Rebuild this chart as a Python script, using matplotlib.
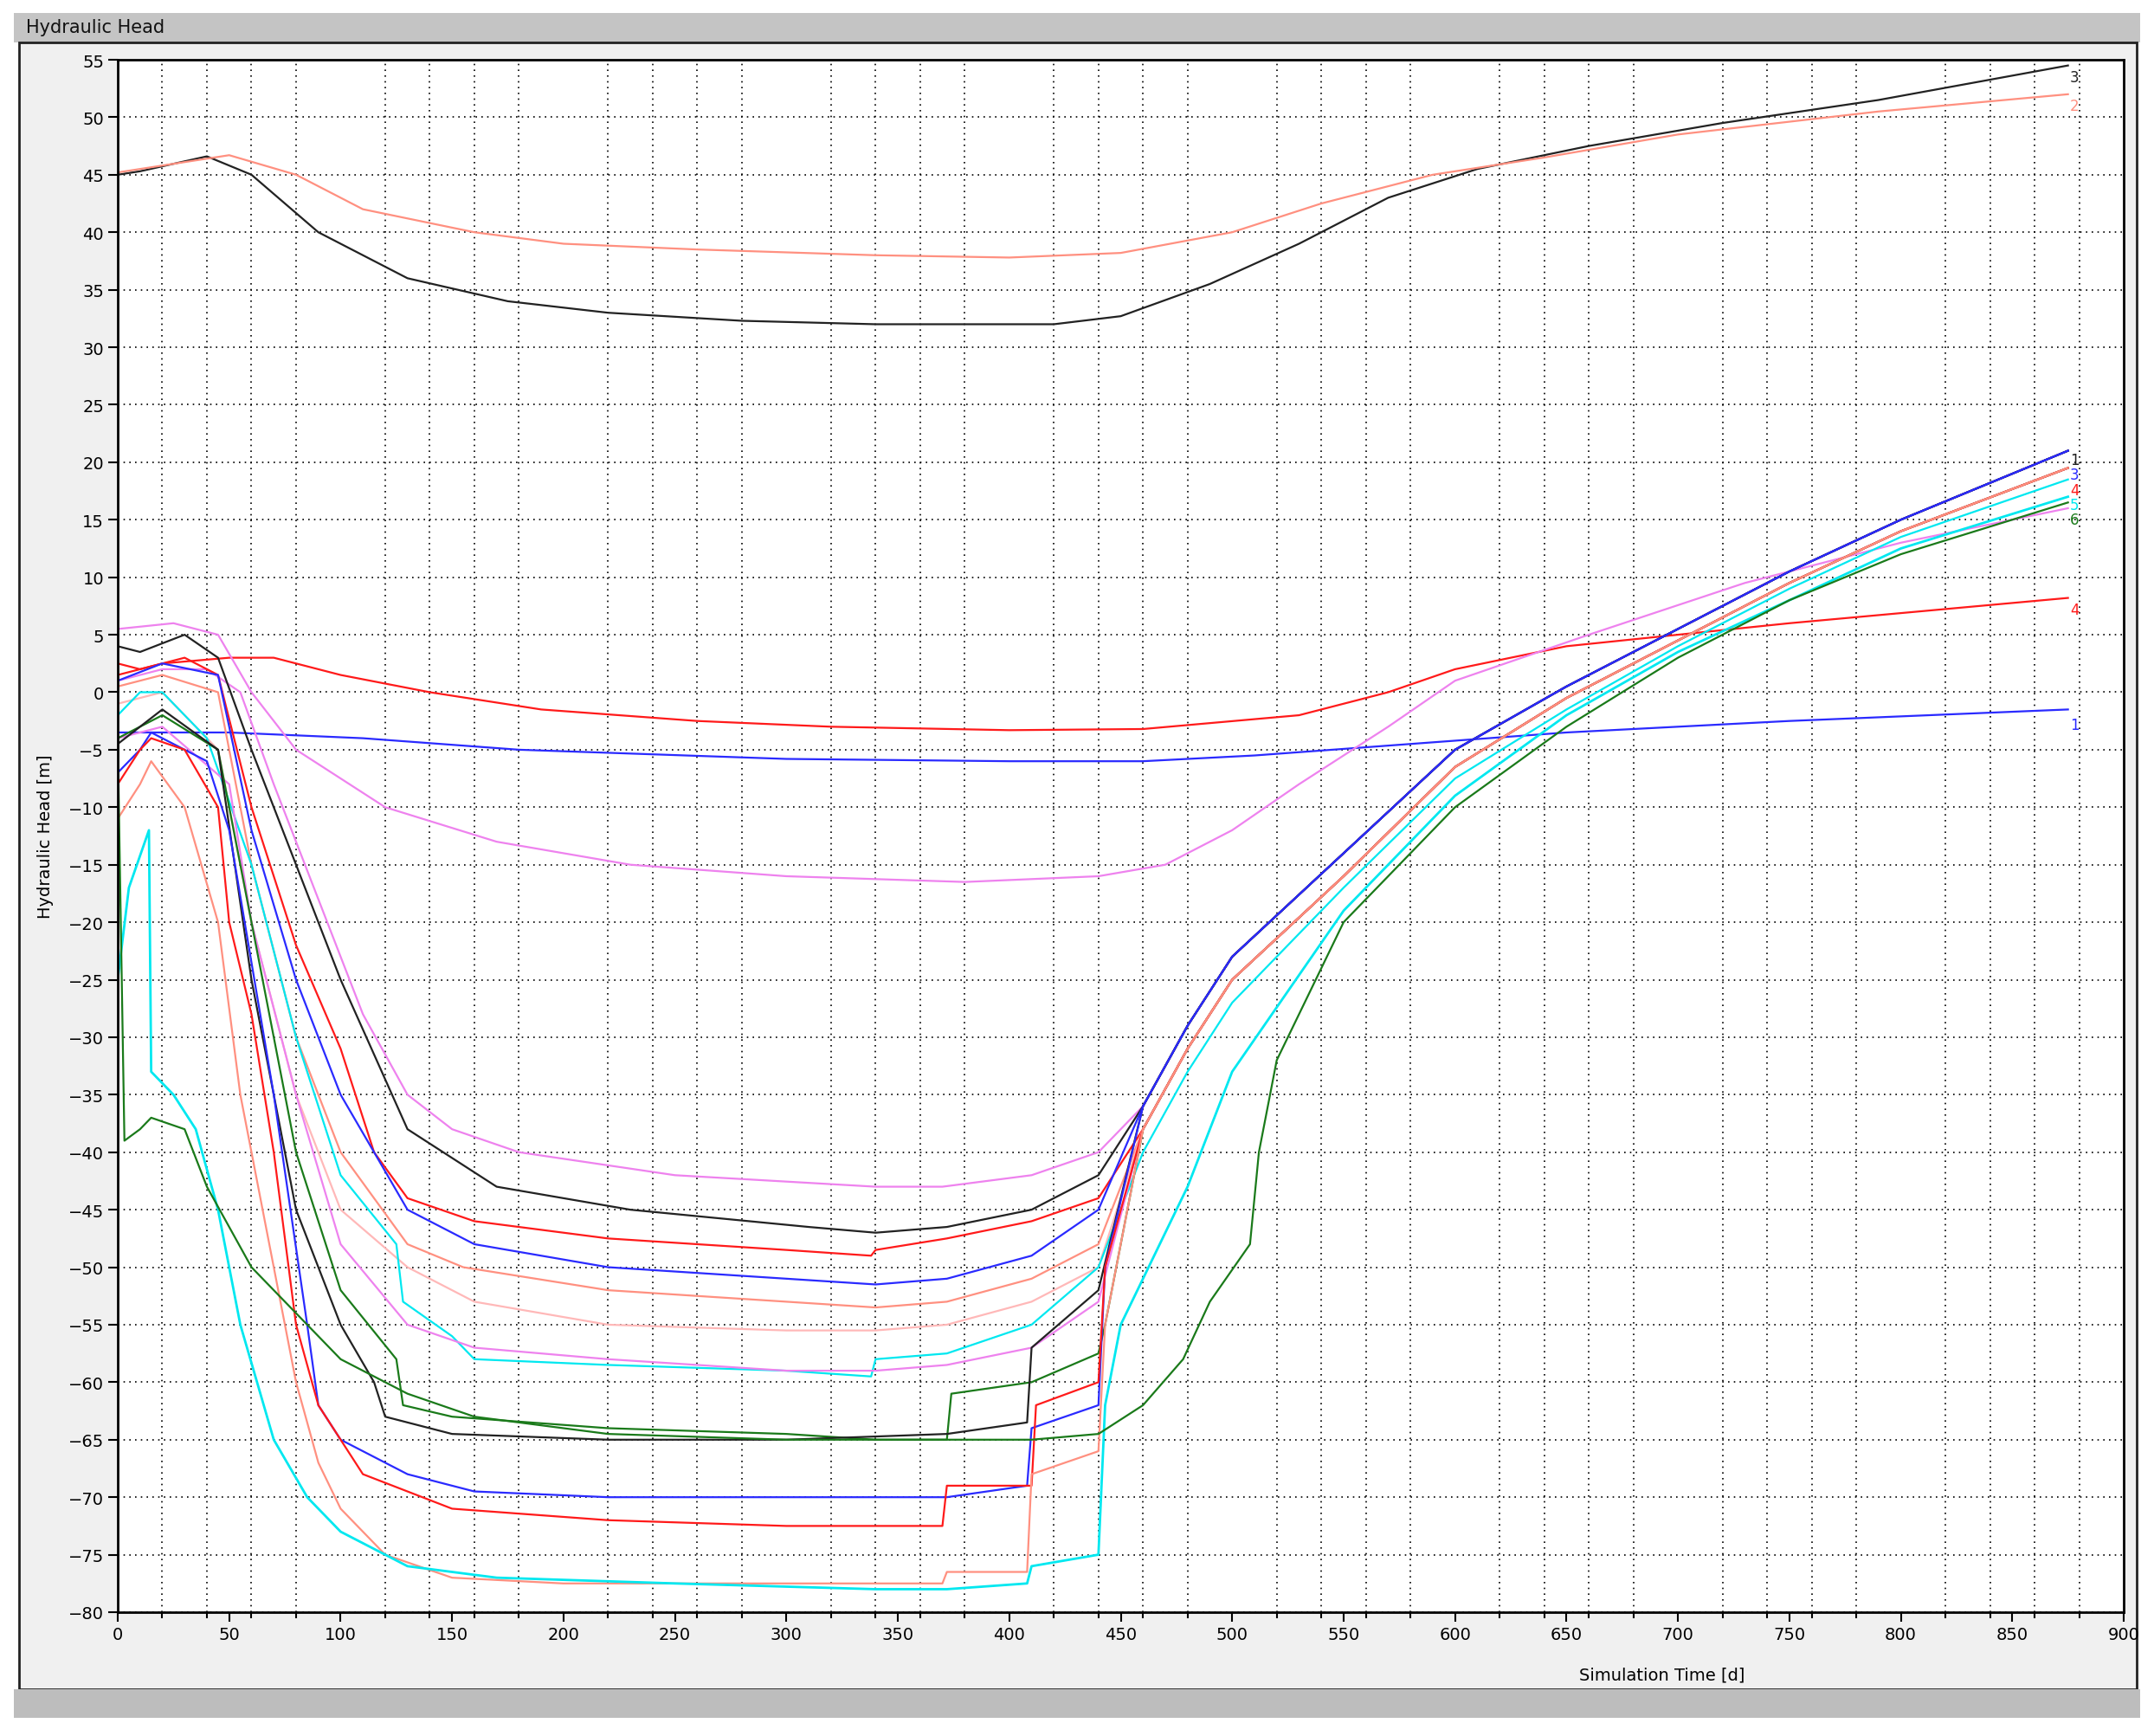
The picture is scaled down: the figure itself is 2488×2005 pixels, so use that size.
import matplotlib.pyplot as plt
from matplotlib.patches import Rectangle
from matplotlib.ticker import MultipleLocator

W, H = 2488, 2006

tail_x = [460, 480, 500, 550, 600, 650, 700, 750, 800, 875]
tail_top = [-36, -29, -23, -14, -5, 0.5, 5.5, 10.5, 15, 21]
tail_mid = [-38, -31, -25, -16, -6.5, -0.5, 4.5, 9.5, 14, 19.5]
tail_low = [-40, -33, -27, -17, -7.5, -1.5, 4, 9, 13.5, 18.5]

# curve 3 (black, top) and 2 (salmon)
t3 = [0, 10, 40, 60, 90, 130, 175, 220, 280, 340, 420, 450, 490, 530, 570, 610, 660, 720, 790, 875]
h3 = [45, 45.3, 46.6, 45, 40, 36, 34, 33, 32.3, 32, 32, 32.7, 35.5, 39, 43, 45.5, 47.5, 49.5, 51.5, 54.5]
t2 = [0, 20, 50, 80, 110, 160, 200, 260, 340, 400, 450, 500, 540, 590, 640, 700, 790, 875]
h2 = [45.2, 45.8, 46.7, 45, 42, 40, 39, 38.5, 38, 37.8, 38.2, 40, 42.5, 45, 46.5, 48.5, 50.5, 52]
# curve 4 (red) and 1 (blue)
t4 = [0, 20, 50, 70, 100, 140, 190, 260, 320, 400, 460, 530, 570, 600, 650, 750, 875]
h4 = [1.5, 2.5, 3, 3, 1.5, 0, -1.5, -2.5, -3, -3.3, -3.2, -2, 0, 2, 4, 6, 8.2]
t1 = [0, 50, 110, 180, 300, 400, 460, 510, 580, 650, 750, 875]
h1 = [-3.5, -3.5, -4, -5, -5.8, -6, -6, -5.5, -4.5, -3.5, -2.5, -1.5]
# upper violet
tv0 = [0, 25, 45, 60, 80, 120, 170, 230, 300, 380, 440, 470, 500, 530, 570, 600, 660, 730, 800, 875]
hv0 = [5.5, 6, 5, 0, -5, -10, -13, -15, -16, -16.5, -16, -15, -12, -8, -3, 1, 5, 9.5, 13, 16]

# lower cluster, flat parts
tva = [0, 20, 40, 55, 70, 90, 110, 130, 150, 180, 250, 340, 370, 410, 440]
hva = [1, 2, 2, 0, -8, -18, -28, -35, -38, -40, -42, -43, -43, -42, -40]
tba = [0, 10, 30, 45, 60, 80, 100, 130, 170, 230, 310, 340, 372, 410, 440]
hba = [4, 3.5, 5, 3, -5, -15, -25, -38, -43, -45, -46.5, -47, -46.5, -45, -42]
tra = [0, 10, 30, 45, 60, 80, 100, 115, 130, 160, 220, 300, 338, 340, 372, 410, 440]
hra = [2.5, 2, 3, 1.5, -10, -22, -31, -40, -44, -46, -47.5, -48.5, -49, -48.5, -47.5, -46, -44]
tbl = [0, 20, 45, 60, 80, 100, 130, 160, 220, 300, 340, 372, 410, 440]
hbl = [1, 2.5, 1.5, -12, -25, -35, -45, -48, -50, -51, -51.5, -51, -49, -45]
tsa = [0, 20, 45, 60, 80, 100, 130, 155, 220, 300, 340, 372, 410, 440]
hsa = [0.5, 1.5, 0, -15, -30, -40, -48, -50, -52, -53, -53.5, -53, -51, -48]
tpa = [0, 20, 45, 60, 80, 100, 130, 160, 220, 300, 340, 372, 410, 440]
hpa = [-1, 0, -5, -20, -35, -45, -50, -53, -55, -55.5, -55.5, -55, -53, -50]
tca = [0, 10, 20, 40, 60, 80, 100, 125, 128, 150, 160, 220, 300, 338, 340, 372, 410, 440]
hca = [-2, 0, 0, -4, -15, -30, -42, -48, -53, -56, -58, -58.5, -59, -59.5, -58, -57.5, -55, -50]
tvb = [0, 20, 50, 60, 80, 100, 130, 160, 220, 300, 340, 372, 410, 440]
hvb = [-4, -3, -8, -20, -35, -48, -55, -57, -58, -59, -59, -58.5, -57, -53]
tga = [0, 10, 20, 45, 60, 80, 100, 125, 128, 150, 220, 300, 340, 372, 374, 410, 440, 443]
hga = [-4, -3, -2, -5, -20, -40, -52, -58, -62, -63, -64, -64.5, -65, -65, -61, -60, -57.5, -55]
tbb = [0, 20, 45, 60, 80, 100, 115, 120, 150, 220, 300, 372, 408, 410, 440]
hbb = [-4.5, -1.5, -5, -25, -45, -55, -60, -63, -64.5, -65, -65, -64.5, -63.5, -57, -52]
tbu = [0, 10, 15, 40, 50, 70, 85, 90, 100, 130, 160, 220, 300, 372, 408, 410, 440, 443]
hbu = [-7, -5, -3.5, -6, -12, -35, -55, -62, -65, -68, -69.5, -70, -70, -70, -69, -64, -62, -50]
trb = [0, 10, 15, 30, 45, 50, 60, 70, 80, 90, 110, 150, 220, 300, 370, 372, 410, 412, 440, 443]
hrb = [-8, -5, -4, -5, -10, -20, -28, -40, -55, -62, -68, -71, -72, -72.5, -72.5, -69, -69, -62, -60, -50]
tsb = [0, 10, 15, 30, 45, 55, 70, 80, 90, 100, 120, 150, 200, 300, 370, 372, 408, 410, 440, 443]
hsb = [-11, -8, -6, -10, -20, -35, -50, -60, -67, -71, -75, -77, -77.5, -77.5, -77.5, -76.5, -76.5, -68, -66, -55]

# slow risers (cyan / green)
tcb = [0, 5, 14, 15, 25, 35, 45, 55, 70, 85, 100, 130, 170, 250, 340, 372, 408, 410, 440, 443,
       450, 480, 500, 550, 600, 650, 700, 750, 800, 875]
hcb = [-25, -17, -12, -33, -35, -38, -45, -55, -65, -70, -73, -76, -77, -77.5, -78, -78, -77.5, -76, -75, -62,
       -55, -43, -33, -19, -9, -2, 3.5, 8, 12.5, 17]
tgb = [0, 3, 10, 15, 30, 40, 60, 80, 100, 130, 160, 220, 300, 340, 372, 410, 440, 460, 478, 490, 508, 512, 520,
       550, 600, 650, 700, 750, 800, 875]
hgb = [-4, -39, -38, -37, -38, -43, -50, -54, -58, -61, -63, -64.5, -65, -65, -65, -65, -64.5, -62, -58, -53, -48,
       -40, -32, -20, -10, -3, 3, 8, 12, 16.5]

black, red, salmon, pink = "#222222", "#ff1a1a", "#ff9080", "#ffb8b8"
blue, cyan, green, violet = "#2a2aff", "#00e8f0", "#1a7a1a", "#ee82ee"

cluster = [
    (tva, hva, violet, tail_top), (tba, hba, black, tail_top), (tra, hra, red, tail_mid),
    (tbl, hbl, blue, tail_top), (tsa, hsa, salmon, tail_mid), (tpa, hpa, pink, tail_mid),
    (tca, hca, cyan, tail_low), (tvb, hvb, violet, tail_mid), (tga, hga, green, tail_mid),
    (tbb, hbb, black, tail_top), (tbu, hbu, blue, tail_top), (trb, hrb, red, tail_mid),
    (tsb, hsb, salmon, tail_mid),
]

fig = plt.figure(figsize=(W / 100, H / 100), dpi=100)
fig.patch.set_facecolor("white")


def box(x0, y0, x1, y1, **kw):
    fig.patches.append(Rectangle((x0 / W, 1 - y1 / H), (x1 - x0) / W, (y1 - y0) / H,
                                 transform=fig.transFigure, zorder=-10, **kw))


box(16, 16, 2472, 50, facecolor="#c4c4c4", edgecolor="none")
box(22, 50, 2468, 1952, facecolor="#f0f0f0", edgecolor="#222222", linewidth=2)
box(16, 1952, 2472, 1985, facecolor="#bdbdbd", edgecolor="none")
fig.text(30 / W, 1 - 32 / H, "Hydraulic Head", fontsize=15, va="center", color="#111111")

ax = fig.add_axes([136 / W, 1 - 1863 / H, (2453 - 136) / W, (1863 - 70) / H])
ax.set_facecolor("white")
ax.set_xlim(0, 900)
ax.set_ylim(-80, 55)
ax.xaxis.set_major_locator(MultipleLocator(50))
ax.xaxis.set_minor_locator(MultipleLocator(20))
ax.yaxis.set_major_locator(MultipleLocator(5))
ax.grid(True, which="minor", axis="x", color="black", linestyle=(0, (1, 3)), linewidth=1.2)
ax.grid(True, which="major", axis="y", color="black", linestyle=(0, (1, 3)), linewidth=1.2)
ax.tick_params(which="both", labelsize=14, length=8, width=1.5)
ax.tick_params(which="minor", length=5)
for s in ax.spines.values():
    s.set_linewidth(2)
ax.set_ylabel("Hydraulic Head [m]", fontsize=14, labelpad=12)
ax.set_xlabel("Simulation Time [d]", fontsize=14, labelpad=4)
ax.xaxis.set_label_coords(0.77, -0.035)

lw = 1.6
ax.plot(t3, h3, color=black, lw=lw)
ax.plot(t2, h2, color=salmon, lw=lw)
ax.plot(t4, h4, color=red, lw=lw)
ax.plot(t1, h1, color=blue, lw=lw)
ax.plot(tv0, hv0, color=violet, lw=lw)
for tx, hy, c, tail in cluster:
    ax.plot(tx + tail_x, hy + tail, color=c, lw=lw)
ax.plot(tcb, hcb, color=cyan, lw=lw + 0.4)
ax.plot(tgb, hgb, color=green, lw=lw)

labels = [("3", 53.5, black), ("2", 51, salmon), ("4", 7.2, red), ("1", -2.8, blue),
          ("1", 20.2, black), ("3", 18.9, blue), ("4", 17.6, red), ("5", 16.3, cyan), ("6", 15.0, green)]
for txt, yv, c in labels:
    ax.text(878, yv, txt, color=c, fontsize=12, ha="center", va="center")

fig.savefig("out.png", dpi=100)
